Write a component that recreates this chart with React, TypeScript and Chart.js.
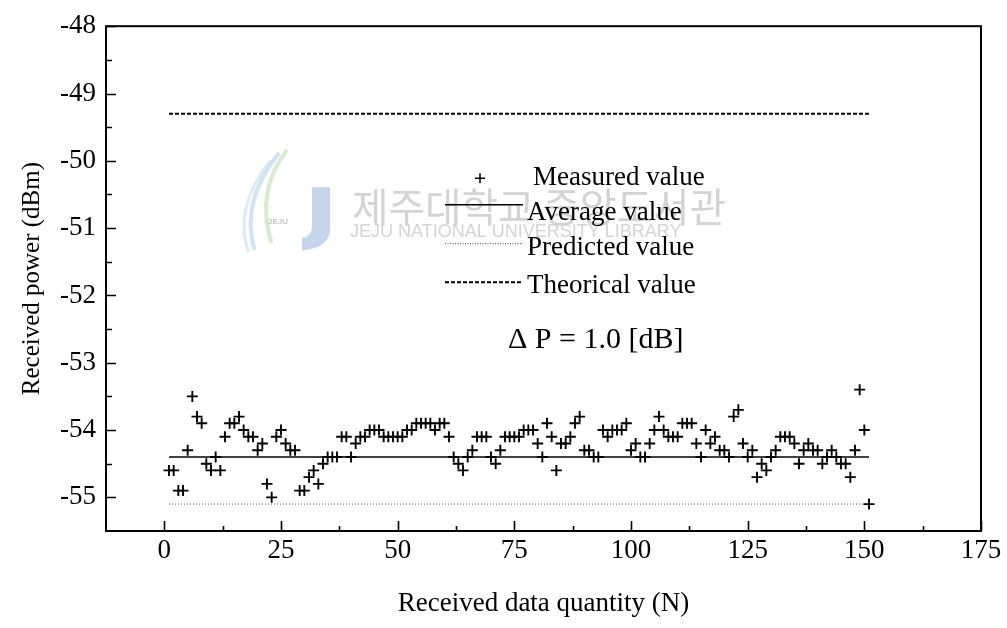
import React, { useEffect, useRef } from "react";
import { Chart, registerables } from "chart.js";

Chart.register(...registerables);

// ---- data ----
const MEASURED: number[] = [
  -54.6, -54.6, -54.9, -54.9, -54.3, -53.5, -53.8, -53.9, -54.5, -54.6,
  -54.4, -54.6, -54.1, -53.9, -53.9, -53.8, -54.0, -54.1, -54.1, -54.3,
  -54.2, -54.8, -55.0, -54.1, -54.0, -54.2, -54.3, -54.3, -54.9, -54.9,
  -54.7, -54.6, -54.8, -54.5, -54.4, -54.4, -54.4, -54.1, -54.1, -54.4,
  -54.2, -54.1, -54.1, -54.0, -54.0, -54.0, -54.1, -54.1, -54.1, -54.1,
  -54.1, -54.0, -54.0, -53.9, -53.9, -53.9, -53.9, -54.0, -53.9, -53.9,
  -54.1, -54.4, -54.5, -54.6, -54.4, -54.3, -54.1, -54.1, -54.1, -54.4,
  -54.5, -54.3, -54.1, -54.1, -54.1, -54.1, -54.0, -54.0, -54.0, -54.2,
  -54.4, -53.9, -54.1, -54.6, -54.2, -54.2, -54.1, -53.9, -53.8, -54.3,
  -54.3, -54.4, -54.4, -54.0, -54.1, -54.0, -54.0, -54.0, -53.9, -54.3,
  -54.2, -54.4, -54.4, -54.2, -54.0, -53.8, -54.0, -54.1, -54.1, -54.1,
  -53.9, -53.9, -53.9, -54.2, -54.4, -54.0, -54.2, -54.1, -54.3, -54.3,
  -54.4, -53.8, -53.7, -54.2, -54.4, -54.3, -54.7, -54.5, -54.6, -54.4,
  -54.3, -54.1, -54.1, -54.1, -54.2, -54.5, -54.3, -54.2, -54.3, -54.3,
  -54.5, -54.4, -54.3, -54.4, -54.5, -54.5, -54.7, -54.3, -53.4, -54.0,
  -55.1,
];
const FIRST_N = 1;
const LINE_X_RANGE = [1, 151];
const AVERAGE_VALUE = -54.4;
const PREDICTED_VALUE = -55.1;
const THEORETICAL_VALUE = -49.3;

const X_TICKS = [0, 25, 50, 75, 100, 125, 150, 175];
const Y_TICKS = [-55, -54, -53, -52, -51, -50, -49, -48];
const X_MIN = -12.5;
const X_MAX = 175;
const Y_MIN = -55.5;
const Y_MAX = -48;

const LEGEND_LABELS = ["Measured value", "Average value", "Predicted value", "Theorical value"];
const DELTA_TEXT = "\u0394 P = 1.0 [dB]";
const X_TITLE = "Received data quantity (N)";
const Y_TITLE = "Received power (dBm)";
const WATERMARK_KR = "제주대학교 중앙도서관";
const WATERMARK_EN = "JEJU NATIONAL UNIVERSITY LIBRARY";

const SERIF = "'Liberation Serif', 'Times New Roman', serif";

const framePlugin = {
  id: "frameAndTicks",
  beforeDatasetsDraw(chart: any) {
    const { ctx, chartArea: a } = chart;
    // watermark (background overlay in the reference scan)
    ctx.save();
    const ox = a.left, oy = a.top;
    ctx.lineCap = "round";
    ctx.strokeStyle = "rgba(180,215,160,0.5)";
    ctx.lineWidth = 4;
    ctx.beginPath();
    ctx.moveTo(ox + 180, oy + 125);
    ctx.quadraticCurveTo(ox + 150, oy + 165, ox + 165, oy + 215);
    ctx.stroke();
    ctx.strokeStyle = "rgba(160,200,232,0.5)";
    ctx.beginPath();
    ctx.moveTo(ox + 172, oy + 128);
    ctx.quadraticCurveTo(ox + 135, oy + 175, ox + 148, oy + 222);
    ctx.stroke();
    ctx.strokeStyle = "rgba(180,210,238,0.45)";
    ctx.lineWidth = 3;
    ctx.beginPath();
    ctx.moveTo(ox + 164, oy + 135);
    ctx.quadraticCurveTo(ox + 128, oy + 180, ox + 142, oy + 225);
    ctx.stroke();
    // J bar
    ctx.fillStyle = "rgba(150,178,218,0.55)";
    ctx.beginPath();
    ctx.moveTo(ox + 206, oy + 161);
    ctx.lineTo(ox + 224, oy + 161);
    ctx.lineTo(ox + 224, oy + 205);
    ctx.quadraticCurveTo(ox + 222, oy + 222, ox + 196, oy + 224);
    ctx.lineTo(ox + 196, oy + 212);
    ctx.quadraticCurveTo(ox + 206, oy + 210, ox + 206, oy + 200);
    ctx.closePath();
    ctx.fill();
    ctx.fillStyle = "rgba(160,160,160,0.6)";
    ctx.font = "bold 8px 'Liberation Sans', sans-serif";
    ctx.textAlign = "center";
    ctx.textBaseline = "middle";
    ctx.fillText("JEJU", ox + 172, oy + 196);
    // watermark texts
    ctx.fillStyle = "rgba(200,200,200,0.8)";
    ctx.textAlign = "left";
    ctx.font = "40px 'Noto Sans CJK KR', sans-serif";
    ctx.fillText(WATERMARK_KR, ox + 246, oy + 181, 374);
    ctx.font = "18px 'Liberation Sans', sans-serif";
    ctx.fillStyle = "rgba(205,205,205,0.85)";
    ctx.fillText(WATERMARK_EN, ox + 244, oy + 206, 373);
    ctx.restore();
  },
  afterDraw(chart: any) {
    const { ctx, chartArea: a, scales } = chart;
    const xs = scales.x, ys = scales.y;
    ctx.save();
    ctx.strokeStyle = "#000";
    ctx.lineWidth = 2;
    ctx.strokeRect(a.left, a.top, a.right - a.left, a.bottom - a.top);
    ctx.lineWidth = 1.6;
    ctx.beginPath();
    const xt = xs.ticks.map((t: any) => t.value);
    for (let i = 0; i < xt.length; i++) {
      const px = Math.round(xs.getPixelForValue(xt[i])) + 0.5;
      ctx.moveTo(px, a.bottom);
      ctx.lineTo(px, a.bottom - 10);
      if (i < xt.length - 1) {
        const mp = Math.round(xs.getPixelForValue((xt[i] + xt[i + 1]) / 2)) + 0.5;
        ctx.moveTo(mp, a.bottom);
        ctx.lineTo(mp, a.bottom - 5);
      }
    }
    const yt = ys.ticks.map((t: any) => t.value);
    for (let i = 0; i < yt.length; i++) {
      const py = Math.round(ys.getPixelForValue(yt[i])) + 0.5;
      ctx.moveTo(a.left, py);
      ctx.lineTo(a.left + 10, py);
      if (i < yt.length - 1) {
        const mp = Math.round(ys.getPixelForValue((yt[i] + yt[i + 1]) / 2)) + 0.5;
        ctx.moveTo(a.left, mp);
        ctx.lineTo(a.left + 6, mp);
      }
    }
    ctx.stroke();

    // legend (inside the plot area)
    const lx0 = a.left + 339, lx1 = a.left + 417;
    const tx = a.left + 421;
    ctx.fillStyle = "#000";
    ctx.font = `27px ${SERIF}`;
    ctx.textAlign = "left";
    ctx.textBaseline = "alphabetic";
    // row 1: + marker
    const r1 = a.top + 152;
    ctx.lineWidth = 1.5;
    ctx.beginPath();
    const cx = a.left + 374;
    ctx.moveTo(cx - 5, r1); ctx.lineTo(cx + 5, r1);
    ctx.moveTo(cx, r1 - 5); ctx.lineTo(cx, r1 + 5);
    ctx.stroke();
    ctx.fillText(LEGEND_LABELS[0], tx + 6, a.top + 159);
    // row 2: solid
    ctx.lineWidth = 1.5;
    ctx.beginPath();
    ctx.moveTo(lx0, a.top + 178.5); ctx.lineTo(lx1, a.top + 178.5);
    ctx.stroke();
    ctx.fillText(LEGEND_LABELS[1], tx, a.top + 194);
    // row 3: dotted
    ctx.lineWidth = 1;
    ctx.strokeStyle = "#444";
    ctx.setLineDash([1, 1.5]);
    ctx.beginPath();
    ctx.moveTo(lx0, a.top + 217.5); ctx.lineTo(lx1, a.top + 217.5);
    ctx.stroke();
    ctx.fillText(LEGEND_LABELS[2], tx, a.top + 229);
    // row 4: dashed
    ctx.strokeStyle = "#000";
    ctx.lineWidth = 2;
    ctx.setLineDash([4, 2]);
    ctx.beginPath();
    ctx.moveTo(lx0, a.top + 256); ctx.lineTo(lx1, a.top + 256);
    ctx.stroke();
    ctx.setLineDash([]);
    ctx.fillText(LEGEND_LABELS[3], tx, a.top + 267);
    // delta P annotation
    ctx.font = `30px ${SERIF}`;
    ctx.fillText(DELTA_TEXT, a.left + 402, a.top + 322);
    ctx.restore();
  },
};

export default function App() {
  const ref = useRef<HTMLCanvasElement | null>(null);
  useEffect(() => {
    if (!ref.current) return;
    const measuredPts = MEASURED.map((y, i) => ({ x: FIRST_N + i, y }));
    const hLine = (v: number) => LINE_X_RANGE.map((x) => ({ x, y: v }));
    const chart = new Chart(ref.current, {
      type: "scatter",
      data: {
        datasets: [
          {
            label: LEGEND_LABELS[0],
            data: measuredPts,
            showLine: false,
            pointStyle: "cross",
            pointRadius: 5.5,
            pointBorderWidth: 1.9,
            borderColor: "#000",
            backgroundColor: "#000",
            order: 0,
          },
          {
            label: LEGEND_LABELS[1],
            data: hLine(AVERAGE_VALUE),
            showLine: true,
            pointRadius: 0,
            borderColor: "#000",
            borderWidth: 1.5,
            order: 1,
          },
          {
            label: LEGEND_LABELS[2],
            data: hLine(PREDICTED_VALUE),
            showLine: true,
            pointRadius: 0,
            borderColor: "#555",
            borderWidth: 1,
            borderDash: [1, 2],
            order: 2,
          },
          {
            label: LEGEND_LABELS[3],
            data: hLine(THEORETICAL_VALUE),
            showLine: true,
            pointRadius: 0,
            borderColor: "#000",
            borderWidth: 2,
            borderDash: [4, 2],
            order: 3,
          },
        ],
      },
      options: {
        responsive: false,
        animation: false,
        layout: { padding: { top: 21, right: 26, left: 0, bottom: 0 } },
        plugins: {
          legend: { display: false },
          tooltip: { enabled: false },
        },
        scales: {
          x: {
            type: "linear",
            min: X_MIN,
            max: X_MAX,
            afterBuildTicks: (s: any) => {
              s.ticks = X_TICKS.map((v) => ({ value: v }));
            },
            afterFit: (s: any) => {
              s.height = 97;
            },
            grid: { display: false, drawTicks: false },
            border: { display: false },
            ticks: {
              color: "#000",
              padding: 4,
              maxRotation: 0,
              autoSkip: false,
              font: { family: SERIF, size: 27 },
            },
            title: {
              display: true,
              text: X_TITLE,
              color: "#000",
              font: { family: SERIF, size: 27 },
              padding: { top: 0, bottom: 8 },
            },
          },
          y: {
            type: "linear",
            min: Y_MIN,
            max: Y_MAX,
            afterBuildTicks: (s: any) => {
              s.ticks = Y_TICKS.map((v) => ({ value: v }));
            },
            afterFit: (s: any) => {
              s.width = 106;
            },
            grid: { display: false, drawTicks: false },
            border: { display: false },
            ticks: {
              color: "#000",
              padding: 10,
              autoSkip: false,
              font: { family: SERIF, size: 27 },
            },
            title: {
              display: true,
              text: Y_TITLE,
              color: "#000",
              font: { family: SERIF, size: 25 },
              padding: { top: 17, bottom: 0 },
            },
          },
        },
      },
      plugins: [framePlugin],
    } as any);
    return () => chart.destroy();
  }, []);
  return (
    <div style={{ position: "absolute", left: 0, top: 0, width: 1007, height: 628, background: "#fff" }}>
      <canvas ref={ref} width={1007} height={628} style={{ width: 1007, height: 628, display: "block" }} />
    </div>
  );
}
